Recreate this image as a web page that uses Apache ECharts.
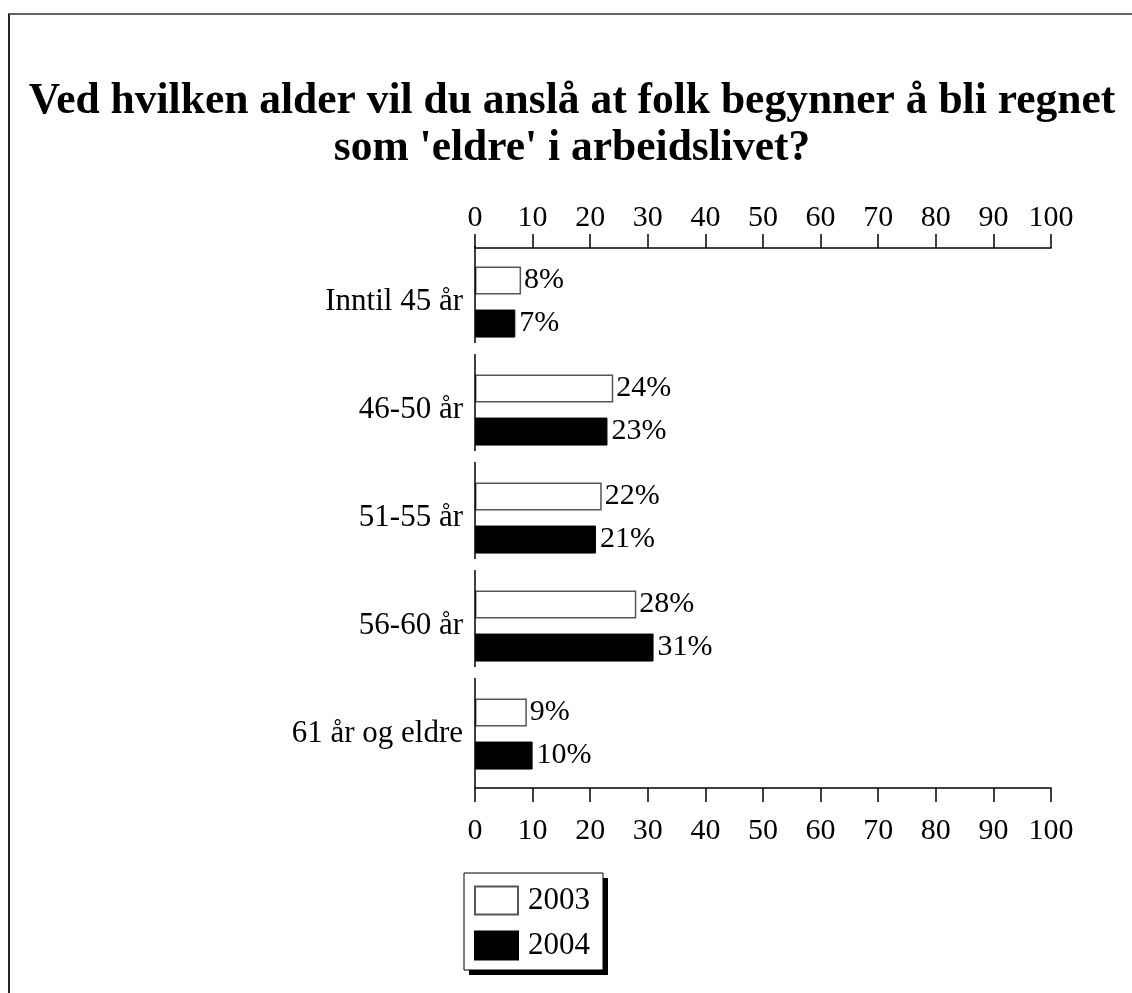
<!DOCTYPE html>
<html>
<head>
<meta charset="utf-8">
<script src="https://cdn.jsdelivr.net/npm/echarts@6/dist/echarts.min.js"></script>
<style>
  html, body { margin: 0; padding: 0; background: #fff; }
  #chart { width: 1132px; height: 993px; }
</style>
</head>
<body>
<div id="chart"></div>
<script>
const categories = ['Inntil 45 år', '46-50 år', '51-55 år', '56-60 år', '61 år og eldre'];
const values2003 = [8, 24, 22, 28, 9];
const values2004 = [7, 23, 21, 31, 10];
const seriesNames = ['2003', '2004'];

const FONT = '"Liberation Serif", "Times New Roman", serif';
const chart = echarts.init(document.getElementById('chart'));

// broken left axis: one piece per category
function renderAxisPiece(params, api) {
  const idx = api.value(1);
  const p = api.coord([0, idx]);
  const h = api.size([0, 1])[1];
  const top = p[1] - h / 2 - 2;
  const bottom = idx === categories.length - 1 ? p[1] + h / 2 : p[1] + h / 2 - 13;
  return {
    type: 'line',
    shape: { x1: p[0], y1: top, x2: p[0], y2: bottom },
    style: { stroke: '#000', lineWidth: 1.5 }
  };
}

const xAxisBase = {
  type: 'value',
  min: 0,
  max: 100,
  interval: 10,
  axisLine: { show: true, lineStyle: { color: '#000', width: 1.5 } },
  axisTick: { show: true, length: 14, lineStyle: { color: '#000', width: 1.5 } },
  axisLabel: { color: '#000', fontFamily: FONT, fontSize: 30 },
  splitLine: { show: false }
};

const option = {
  animation: false,
  backgroundColor: '#fff',
  title: {
    text: 'Ved hvilken alder vil du anslå at folk begynner å bli regnet\nsom \'eldre\' i arbeidslivet?',
    left: 567,
    top: 73,
    textAlign: 'center',
    textStyle: { fontFamily: FONT, fontSize: 43.5, fontWeight: 'bold', color: '#000', lineHeight: 47 }
  },
  graphic: [
    { type: 'line', shape: { x1: 8, y1: 14, x2: 1132, y2: 14 }, style: { stroke: '#333', lineWidth: 1.5 } },
    { type: 'line', shape: { x1: 9, y1: 14, x2: 9, y2: 993 }, style: { stroke: '#222', lineWidth: 2 } },
    // legend drop shadow
    { type: 'rect', z: 0, shape: { x: 469, y: 878, width: 139, height: 97 }, style: { fill: '#000' } }
  ],
  legend: {
    orient: 'vertical',
    left: 464,
    top: 873,
    padding: [12, 13, 9, 10],
    itemGap: 14,
    itemWidth: 43,
    itemHeight: 28,
    icon: 'rect',
    data: seriesNames,
    backgroundColor: '#fff',
    borderColor: '#000',
    borderWidth: 1,
    borderRadius: 0,
    textStyle: { fontFamily: FONT, fontSize: 31, color: '#000', lineHeight: 28, padding: [0, 0, 0, 5] }
  },
  grid: { left: 475, right: 81, top: 248, bottom: 205, containLabel: false },
  xAxis: [
    Object.assign({}, xAxisBase, { position: 'top', axisLabel: Object.assign({}, xAxisBase.axisLabel, { margin: 15 }) }),
    Object.assign({}, xAxisBase, { position: 'bottom', axisLabel: Object.assign({}, xAxisBase.axisLabel, { margin: 28 }) })
  ],
  yAxis: {
    type: 'category',
    data: categories,
    inverse: true,
    axisLine: { show: false },
    axisTick: { show: false },
    axisLabel: { color: '#000', fontFamily: FONT, fontSize: 31, margin: 12 }
  },
  series: [
    {
      name: seriesNames[0],
      type: 'bar',
      xAxisIndex: 0,
      data: values2003,
      barWidth: 28,
      barGap: '54%',
      itemStyle: { color: '#fff', borderColor: '#555', borderWidth: 1.5 },
      label: { show: true, position: 'right', distance: 3, formatter: '{c}%', color: '#000', fontFamily: FONT, fontSize: 30 }
    },
    {
      name: seriesNames[1],
      type: 'bar',
      xAxisIndex: 0,
      data: values2004,
      barWidth: 28,
      barGap: '54%',
      itemStyle: { color: '#000', borderColor: '#000', borderWidth: 1 },
      label: { show: true, position: 'right', distance: 4, formatter: '{c}%', color: '#000', fontFamily: FONT, fontSize: 30 }
    },
    {
      type: 'custom',
      xAxisIndex: 0,
      renderItem: renderAxisPiece,
      data: categories.map((c, i) => [0, i]),
      encode: { x: 0, y: 1 },
      silent: true,
      z: 5
    }
  ]
};

chart.setOption(option);
</script>
</body>
</html>
